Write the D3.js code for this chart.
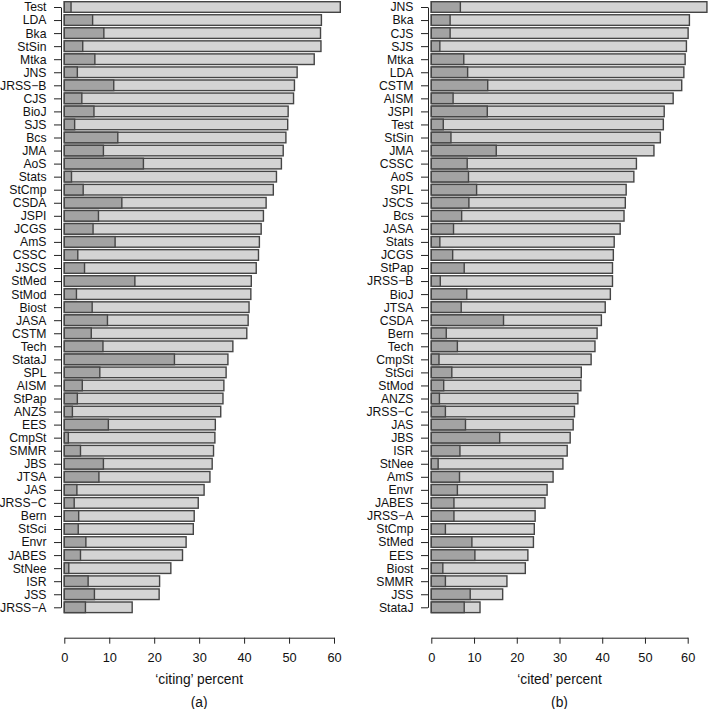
<!DOCTYPE html>
<meta charset="utf-8">
<style>
    body { margin: 0; background: #fff; }
    svg { font-family: "Liberation Sans", Arial, sans-serif; }
    .axis text { fill: #111; }
    .axis path, .axis line { stroke: #222; }
</style>
<body>
<svg width="709" height="709"></svg>
<script src="https://d3js.org/d3.v7.min.js"></script>
<script>
// panel (a): 'citing' percent, sorted by total
var citingNames = ["Test", "LDA", "Bka", "StSin", "Mtka", "JNS", "JRSS\u2212B", "CJS", "BioJ", "SJS",
    "Bcs", "JMA", "AoS", "Stats", "StCmp", "CSDA", "JSPI", "JCGS", "AmS", "CSSC",
    "JSCS", "StMed", "StMod", "Biost", "JASA", "CSTM", "Tech", "StataJ", "SPL", "AISM",
    "StPap", "ANZS", "EES", "CmpSt", "SMMR", "JBS", "JTSA", "JAS", "JRSS\u2212C", "Bern",
    "StSci", "Envr", "JABES", "StNee", "ISR", "JSS", "JRSS\u2212A"];
var citingSelf = [1.5, 6.3, 8.8, 4.1, 6.8, 2.9, 11.0, 3.9, 6.6, 2.3,
    11.9, 8.7, 17.6, 1.6, 4.2, 12.8, 7.6, 6.4, 11.3, 3.0,
    4.5, 15.7, 2.7, 6.2, 9.6, 6.0, 8.6, 24.5, 7.9, 4.0,
    2.9, 1.8, 9.8, 0.9, 3.6, 8.7, 7.7, 2.8, 2.2, 3.2,
    3.1, 4.8, 3.6, 1.0, 5.3, 6.7, 4.7];
var citingTotal = [61.4, 57.2, 57.0, 57.1, 55.6, 51.8, 51.2, 51.0, 49.8, 49.7,
    49.3, 48.7, 48.3, 47.2, 46.5, 44.9, 44.3, 43.8, 43.4, 43.2,
    42.7, 41.6, 41.5, 41.1, 40.9, 40.6, 37.5, 36.4, 36.0, 35.5,
    35.3, 34.8, 33.6, 33.5, 33.2, 32.9, 32.4, 31.1, 29.8, 28.9,
    28.7, 27.1, 26.3, 23.7, 21.2, 21.1, 15.1];

// panel (b): 'cited' percent
var citedNames = ["JNS", "Bka", "CJS", "SJS", "Mtka", "LDA", "CSTM", "AISM", "JSPI", "Test",
    "StSin", "JMA", "CSSC", "AoS", "SPL", "JSCS", "Bcs", "JASA", "Stats", "JCGS",
    "StPap", "JRSS\u2212B", "BioJ", "JTSA", "CSDA", "Bern", "Tech", "CmpSt", "StSci", "StMod",
    "ANZS", "JRSS\u2212C", "JAS", "JBS", "ISR", "StNee", "AmS", "Envr", "JABES", "JRSS\u2212A",
    "StCmp", "StMed", "EES", "Biost", "SMMR", "JSS", "StataJ"];
var citedSelf = [6.8, 4.4, 4.4, 2.0, 7.6, 8.5, 13.2, 5.1, 13.1, 2.8,
    4.6, 15.2, 8.4, 8.7, 10.6, 8.8, 7.1, 5.2, 2.0, 5.0,
    7.7, 2.1, 8.3, 7.0, 16.9, 3.5, 6.1, 1.8, 4.8, 2.9,
    1.9, 3.3, 8.0, 16.0, 6.7, 1.6, 6.6, 6.1, 5.3, 5.3,
    3.3, 9.5, 10.2, 2.7, 3.3, 9.1, 7.7];
var citedTotal = [64.5, 60.4, 60.1, 59.7, 59.4, 59.1, 58.6, 56.6, 54.5, 54.3,
    53.6, 52.1, 48.0, 47.4, 45.6, 45.4, 45.1, 44.2, 42.8, 42.6,
    42.4, 42.4, 41.9, 40.7, 39.8, 38.8, 38.3, 37.4, 35.1, 35.0,
    34.3, 33.5, 33.2, 32.5, 31.8, 30.8, 28.5, 27.1, 26.6, 24.3,
    24.1, 23.9, 22.6, 22.0, 17.7, 16.7, 11.4];

var xTicks = [0, 10, 20, 30, 40, 50, 60];

var svg = d3.select("svg");

var panels = [
    { names: citingNames, self: citingSelf, total: citingTotal, x0: 64.3, x1: 334, axisX: 61, label: "\u2018citing\u2019 percent", tag: "(a)" },
    { names: citedNames, self: citedSelf, total: citedTotal, x0: 431.3, x1: 687.7, axisX: 428, label: "\u2018cited\u2019 percent", tag: "(b)" }
];

var barH = 10.6;
var xAxisY = 637.7;

panels.forEach(function (p) {
    var x = d3.scaleLinear().domain([0, 60]).range([p.x0, p.x1]);
    var y = d3.scalePoint().domain(p.names).range([7, 607.3]);

    var rows = p.names.map(function (n, i) {
        return { name: n, self: p.self[i], total: p.total[i] };
    });

    var g = svg.append("g");

    // whole bar (light)
    g.selectAll(".tot")
        .data(rows)
        .enter().append("rect")
        .attr("class", "tot")
        .attr("x", x(0))
        .attr("y", function (d) { return y(d.name) - barH / 2; })
        .attr("width", function (d) { return x(d.total) - x(0); })
        .attr("height", barH)
        .style("fill", "#d4d4d4")
        .style("stroke", "#454545")
        .style("stroke-width", 1.4);

    // self-citation part (dark)
    g.selectAll(".self")
        .data(rows)
        .enter().append("rect")
        .attr("class", "self")
        .attr("x", x(0))
        .attr("y", function (d) { return y(d.name) - barH / 2; })
        .attr("width", function (d) { return x(d.self) - x(0); })
        .attr("height", barH)
        .style("fill", "#a3a3a3")
        .style("stroke", "#454545")
        .style("stroke-width", 1.4);

    var yAxis = d3.axisLeft(y).tickSize(7).tickSizeOuter(0).tickPadding(7.5);
    svg.append("g")
        .attr("class", "axis")
        .attr("transform", "translate(" + p.axisX + ",0)")
        .call(yAxis)
        .call(function (a) {
            a.selectAll("text").style("font-size", "12.2px");
        });

    var xAxis = d3.axisBottom(x).tickValues(xTicks).tickSize(6).tickSizeOuter(0).tickPadding(9);
    svg.append("g")
        .attr("class", "axis")
        .attr("transform", "translate(0," + xAxisY + ")")
        .call(xAxis)
        .call(function (a) {
            a.selectAll("text").style("font-size", "12.8px");
        });

    var cx = (p.x0 + p.x1) / 2;
    svg.append("text")
        .attr("x", cx)
        .attr("y", 684)
        .style("text-anchor", "middle")
        .style("font-size", "13.8px")
        .style("fill", "#111")
        .text(p.label);

    svg.append("text")
        .attr("x", cx)
        .attr("y", 706.5)
        .style("text-anchor", "middle")
        .style("font-size", "13.8px")
        .style("fill", "#111")
        .text(p.tag);
});
</script>
</body>
